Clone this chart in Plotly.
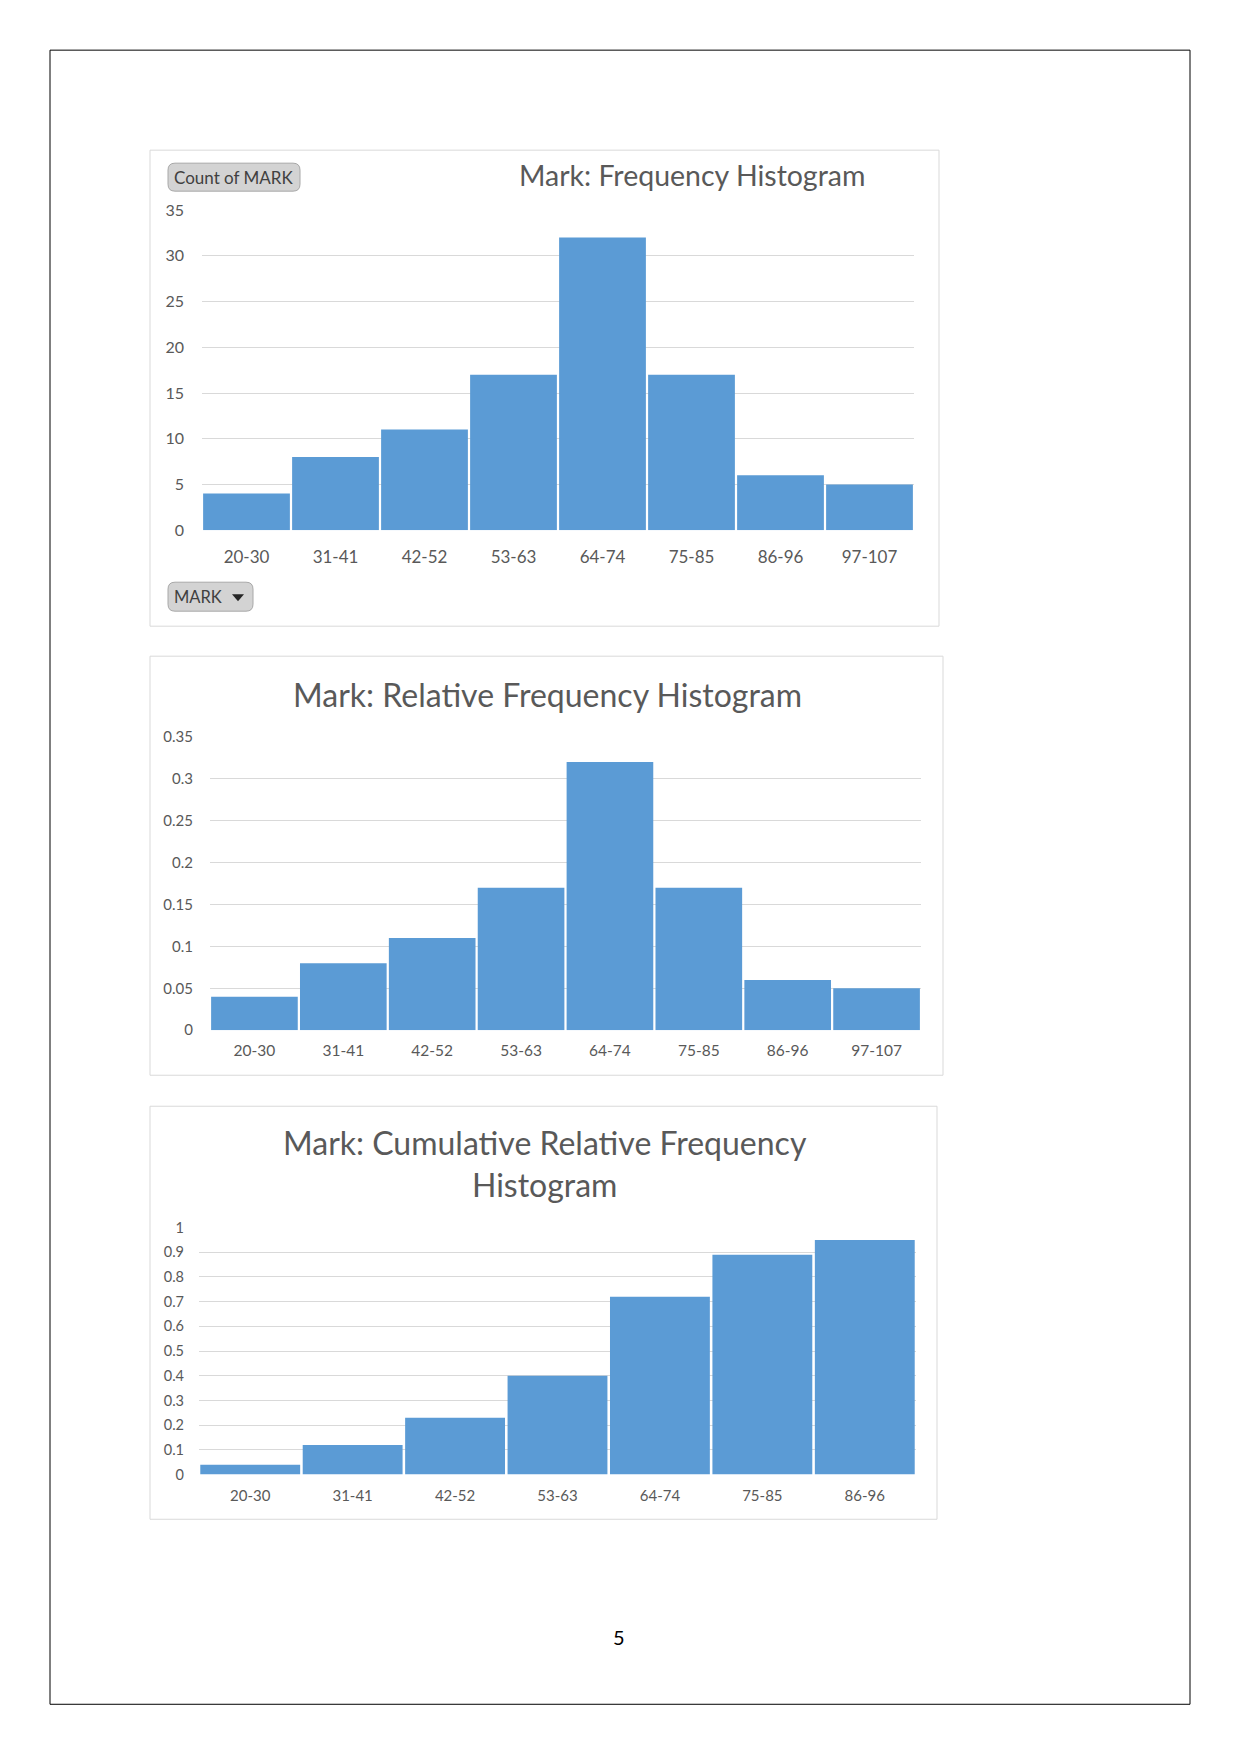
import plotly.graph_objects as go

W, H = 1241, 1754

# the rendered page is slightly compressed vertically; positions below are given in
# target screen pixels and converted here
Y_OFF, Y_SCALE = 9.85, 0.9891


def fx(px):
    return px / W


def fy(py):
    return 1 - ((py - Y_OFF) / Y_SCALE) / H


# ---------------- data ----------------
categories_main = ["20-30", "31-41", "42-52", "53-63", "64-74", "75-85", "86-96", "97-107"]
frequency = [4, 8, 11, 17, 32, 17, 6, 5]
relative_frequency = [0.04, 0.08, 0.11, 0.17, 0.32, 0.17, 0.06, 0.05]
categories_cum = ["20-30", "31-41", "42-52", "53-63", "64-74", "75-85", "86-96"]
cumulative_relative_frequency = [0.04, 0.12, 0.23, 0.40, 0.72, 0.89, 0.95]

title_freq = "Mark: Frequency Histogram"
title_rel = "Mark: Relative Frequency Histogram"
title_cum = "Mark: Cumulative Relative Frequency<br>Histogram"
page_number = "5"

BAR = "#5B9BD5"
TXT = "#595959"
GRID = "#d9d9d9"
FONT = "Lato, 'Open Sans', sans-serif"

fig = go.Figure()
fig.add_trace(go.Bar(x=categories_main, y=frequency, xaxis="x", yaxis="y",
                     marker=dict(color=BAR, line=dict(width=0)), hoverinfo="x+y"))
fig.add_trace(go.Bar(x=categories_main, y=relative_frequency, xaxis="x2", yaxis="y2",
                     marker=dict(color=BAR, line=dict(width=0)), hoverinfo="x+y"))
fig.add_trace(go.Bar(x=categories_cum, y=cumulative_relative_frequency, xaxis="x3", yaxis="y3",
                     marker=dict(color=BAR, line=dict(width=0)), hoverinfo="x+y"))


def xax(l, r, anchor, size, standoff):
    return dict(domain=[fx(l), fx(r)], anchor=anchor, showgrid=False, zeroline=False,
                showline=False, ticks="", tickfont=dict(family=FONT, size=size, color=TXT),
                ticklabelstandoff=int(standoff), fixedrange=True)


def yax(top, bottom, anchor, rng, dtick, size, standoff):
    return dict(domain=[fy(bottom), fy(top)], anchor=anchor, range=rng, dtick=dtick, tick0=0,
                showgrid=True, gridcolor=GRID, gridwidth=1, zeroline=False, showline=False,
                ticks="", tickfont=dict(family=FONT, size=size, color=TXT),
                ticklabelstandoff=int(standoff), fixedrange=True)


shapes = []
# page border
shapes.append(dict(type="rect", xref="paper", yref="paper", x0=fx(50), x1=fx(1190), y0=fy(1704), y1=fy(50),
                   line=dict(color="#000000", width=1), fillcolor="rgba(0,0,0,0)", layer="below"))
# chart boxes
for (l, t, r, b) in [(150, 150, 939, 626), (150, 656, 943, 1075), (150, 1106, 937, 1519)]:
    shapes.append(dict(type="rect", xref="paper", yref="paper", x0=fx(l), x1=fx(r), y0=fy(b), y1=fy(t),
                       line=dict(color=GRID, width=1), fillcolor="rgba(0,0,0,0)", layer="below"))


def rounded(l, t, r, b, rad):
    return (f"M {fx(l+rad)},{fy(t)} L {fx(r-rad)},{fy(t)} Q {fx(r)},{fy(t)} {fx(r)},{fy(t+rad)} "
            f"L {fx(r)},{fy(b-rad)} Q {fx(r)},{fy(b)} {fx(r-rad)},{fy(b)} "
            f"L {fx(l+rad)},{fy(b)} Q {fx(l)},{fy(b)} {fx(l)},{fy(b-rad)} "
            f"L {fx(l)},{fy(t+rad)} Q {fx(l)},{fy(t)} {fx(l+rad)},{fy(t)} Z")


# pivot-chart field buttons
shapes.append(dict(type="path", xref="paper", yref="paper", path=rounded(168, 163, 300, 191, 7),
                   fillcolor="#d3d3d3", line=dict(color="#a8a8a8", width=1)))
shapes.append(dict(type="path", xref="paper", yref="paper", path=rounded(168, 582, 253, 611, 7),
                   fillcolor="#d3d3d3", line=dict(color="#a8a8a8", width=1)))
shapes.append(dict(type="path", xref="paper", yref="paper",
                   path=f"M {fx(232)},{fy(594)} L {fx(244)},{fy(594)} L {fx(238)},{fy(601)} Z",
                   fillcolor="#262626", line=dict(width=0)))

annotations = [
    dict(text=title_freq, x=fx(692), y=fy(175), xref="paper", yref="paper", showarrow=False,
         xanchor="center", yanchor="middle", font=dict(family=FONT, size=28.5, color=TXT)),
    dict(text=title_rel, x=fx(547), y=fy(694), xref="paper", yref="paper", showarrow=False,
         xanchor="center", yanchor="middle", font=dict(family=FONT, size=32, color=TXT)),
    dict(text=title_cum, x=fx(545), y=fy(1163), xref="paper", yref="paper", showarrow=False,
         xanchor="center", yanchor="middle", font=dict(family=FONT, size=32, color=TXT)),
    dict(text="Count of MARK", x=fx(234), y=fy(177), xref="paper", yref="paper", showarrow=False,
         xanchor="center", yanchor="middle", font=dict(family=FONT, size=17, color="#404040")),
    dict(text="MARK", x=fx(172), y=fy(596.5), xref="paper", yref="paper", showarrow=False,
         xanchor="left", yanchor="middle", font=dict(family=FONT, size=16.5, color="#404040")),
    dict(text=page_number, x=fx(619), y=fy(1637), xref="paper", yref="paper", showarrow=False,
         xanchor="center", yanchor="middle", font=dict(family=FONT, size=20, color="#000000")),
]

fig.update_layout(
    width=W, height=H, margin=dict(l=0, r=0, t=0, b=0),
    paper_bgcolor="white", plot_bgcolor="white", showlegend=False,
    bargap=0.025,
    xaxis=xax(202, 914, "y", 17, 15),
    yaxis=yax(210, 530, "x", [0, 35], 5, 16, 17),
    xaxis2=xax(210, 921, "y2", 15.5, 9),
    yaxis2=yax(736.7, 1030, "x2", [0, 0.35], 0.05, 15, 16),
    xaxis3=xax(199, 916, "y3", 15, 10),
    yaxis3=yax(1227.3, 1474.3, "x3", [0, 1], 0.1, 14.5, 14),
    shapes=shapes, annotations=annotations,
)

fig.write_html("out.html")
